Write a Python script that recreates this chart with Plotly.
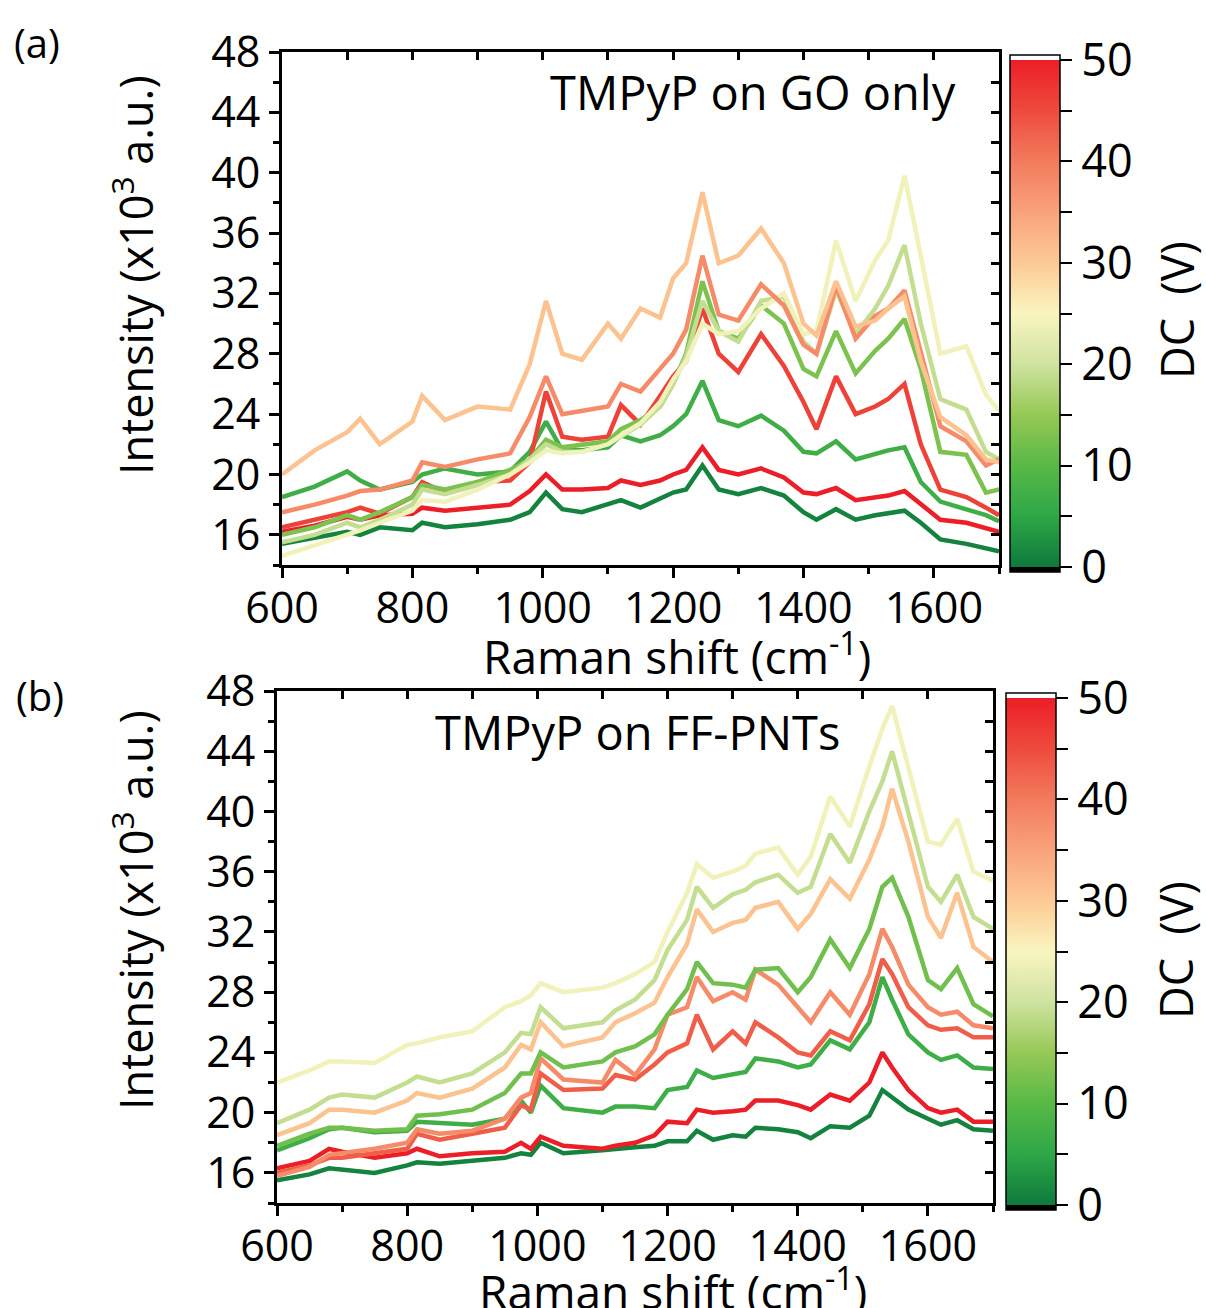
import plotly.graph_objects as go
from plotly.colors import sample_colorscale

# ---------------- colour scale (DC voltage) ----------------
dc_stops = [0, 5, 10, 15, 20, 25, 30, 35, 40, 45, 50]
dc_colors = ["#0e7a3c", "#2ea747", "#58b947", "#96c855", "#cfe3a0", "#f9f5c0",
             "#fdca94", "#f9a27b", "#f27b5c", "#ee4b3c", "#ec1e27"]
cb_ticks = [0, 5, 10, 15, 20, 25, 30, 35, 40, 45, 50]
cb_ticktext = ["0", "", "10", "", "20", "", "30", "", "40", "", "50"]

# ---------------- panel (a): TMPyP on GO only ----------------
a_x = [600, 650, 700, 720, 750, 800, 815, 850, 900, 950, 980, 1005, 1030, 1060, 1100,
       1120, 1150, 1180, 1200, 1220, 1245, 1270, 1300, 1335, 1370, 1400, 1420, 1450,
       1480, 1510, 1530, 1555, 1580, 1610, 1650, 1680, 1700]
a_dc = [1, 7, 50, 46, 13, 19, 24, 38, 31]
a_dc1 = [15.4, 15.8, 16.2, 16.0, 16.5, 16.3, 16.8, 16.5, 16.7, 17.0, 17.5, 18.8, 17.7, 17.5, 18.0,
         18.3, 17.8, 18.4, 18.8, 19.0, 20.6, 19.0, 18.7, 19.1, 18.6, 17.5, 17.0, 17.7,
         17.0, 17.3, 17.4, 17.6, 16.8, 15.7, 15.4, 15.1, 14.9]
a_dc7 = [18.5, 19.2, 20.2, 19.6, 19.0, 19.5, 20.0, 20.4, 20.0, 20.2, 21.5, 23.5, 21.6, 21.6, 21.8,
         22.6, 22.2, 22.6, 23.2, 24.0, 26.2, 23.6, 23.2, 23.9, 22.9, 21.5, 21.4, 22.2,
         21.0, 21.4, 21.6, 21.8, 19.5, 18.2, 17.7, 17.3, 16.9]
a_dc50 = [16.2, 16.6, 17.2, 17.0, 17.3, 17.4, 17.8, 17.6, 17.8, 18.0, 18.9, 20.0, 19.0, 19.0, 19.1,
          19.6, 19.3, 19.6, 20.0, 20.3, 21.8, 20.3, 20.0, 20.4, 19.8, 18.8, 18.7, 19.1,
          18.3, 18.5, 18.6, 18.9, 18.0, 17.0, 16.8, 16.4, 16.2]
a_dc46 = [16.5, 17.0, 17.5, 17.8, 17.4, 18.5, 19.5, 18.8, 19.5, 19.6, 20.8, 25.5, 22.5, 22.3, 22.5,
          24.6, 23.3, 25.2, 26.5, 27.5, 31.0, 28.0, 26.8, 29.3, 27.2, 24.8, 23.0, 26.5,
          24.0, 24.5, 25.0, 26.0, 22.0, 19.0, 18.5, 17.8, 17.3]
a_dc13 = [16.0, 16.5, 17.3, 17.0, 17.5, 18.5, 19.3, 19.0, 19.5, 20.3, 21.0, 22.3, 21.8, 22.0, 22.2,
          23.0, 23.6, 24.5, 26.0, 28.0, 32.8, 29.5, 29.0, 31.2, 30.0, 27.0, 26.5, 29.5,
          26.7, 28.2, 29.0, 30.3, 27.0, 21.5, 21.3, 18.8, 19.0]
a_dc19 = [15.5, 16.0, 16.8, 16.5, 17.0, 18.0, 19.0, 18.7, 19.3, 20.0, 21.0, 22.0, 21.5, 21.5, 22.0,
          22.5, 23.3, 24.5, 26.0, 27.8, 31.5, 29.5, 28.8, 31.5, 31.8, 28.8, 28.0, 32.2,
          29.3, 31.0, 32.5, 35.2, 30.0, 25.0, 24.3, 21.5, 21.0]
a_dc24 = [14.6, 15.3, 16.0, 16.3, 16.8, 17.6, 18.3, 18.2, 19.0, 20.0, 20.8, 21.6, 21.4, 21.5, 22.0,
          22.6, 23.4, 24.8, 26.3, 27.5, 30.0, 29.3, 29.5, 31.0, 32.0, 29.3, 29.5, 35.5,
          31.5, 34.2, 35.5, 39.8, 34.5, 28.0, 28.5, 25.3, 24.2]
a_dc38 = [17.5, 18.0, 18.6, 18.9, 19.0, 19.6, 20.8, 20.5, 21.0, 21.4, 23.8, 26.5, 24.0, 24.2, 24.5,
          26.0, 25.5, 27.0, 28.0, 29.6, 34.5, 30.6, 30.2, 32.6, 31.2, 28.6, 28.0, 32.5,
          29.0, 30.5, 31.0, 32.2, 28.0, 23.2, 22.2, 20.6, 21.0]
a_dc31 = [20.0, 21.6, 22.8, 23.7, 22.0, 23.5, 25.2, 23.6, 24.5, 24.3, 27.3, 31.5, 28.0, 27.6, 30.0,
          29.0, 31.0, 30.4, 33.0, 34.0, 38.7, 34.0, 34.5, 36.3, 34.0, 30.0, 29.2, 32.8,
          29.8, 30.2, 31.0, 31.8, 27.5, 23.8, 22.6, 21.0, 20.8]
a_series = [a_dc1, a_dc7, a_dc50, a_dc46, a_dc13, a_dc19, a_dc24, a_dc38, a_dc31]

# ---------------- panel (b): TMPyP on FF-PNTs ----------------
b_x = [600, 650, 680, 700, 750, 800, 815, 850, 900, 950, 975, 990, 1005, 1040, 1100, 1120,
       1150, 1180, 1200, 1230, 1245, 1270, 1300, 1320, 1335, 1370, 1400, 1420, 1450, 1480,
       1510, 1530, 1545, 1570, 1600, 1620, 1645, 1670, 1700]
b_dc = [1, 50, 7, 43, 38, 12, 31, 19, 24]
b_dc1 = [15.5, 15.9, 16.3, 16.2, 16.0, 16.5, 16.7, 16.6, 16.8, 17.0, 17.3, 17.2, 18.0, 17.3, 17.5, 17.6,
         17.7, 17.8, 18.1, 18.1, 18.8, 18.2, 18.5, 18.4, 19.0, 18.9, 18.7, 18.3, 19.1, 19.0,
         19.8, 21.5, 21.0, 20.2, 19.6, 19.2, 19.5, 18.9, 18.8]
b_dc50 = [16.3, 16.8, 17.6, 17.4, 17.0, 17.3, 17.6, 17.1, 17.3, 17.4, 18.0, 17.6, 18.4, 17.8, 17.6, 17.8,
          18.0, 18.5, 19.4, 19.3, 20.2, 20.0, 20.1, 20.2, 20.8, 20.8, 20.5, 20.2, 21.2, 20.8,
          22.0, 24.0, 23.0, 21.5, 20.3, 20.0, 20.2, 19.4, 19.4]
b_dc7 = [17.5, 18.3, 18.9, 19.0, 18.7, 18.8, 19.4, 19.3, 19.2, 19.6, 20.8, 20.0, 21.8, 20.3, 20.0, 20.4,
         20.4, 20.3, 21.5, 21.7, 22.8, 22.3, 22.5, 22.7, 23.6, 23.4, 23.0, 23.2, 24.8, 24.2,
         26.0, 29.0, 27.5, 25.2, 24.0, 23.5, 23.8, 23.0, 22.9]
b_dc43 = [16.0, 16.5, 17.0, 17.0, 17.3, 17.6, 18.6, 18.2, 18.6, 19.0, 20.5, 20.2, 22.6, 21.5, 21.6, 22.5,
          22.2, 23.2, 24.0, 24.6, 26.5, 24.2, 25.4, 24.6, 26.0, 25.0, 24.0, 23.8, 25.4, 24.8,
          27.2, 30.2, 29.2, 27.0, 25.8, 25.5, 25.6, 25.0, 25.0]
b_dc38 = [15.8, 16.4, 17.2, 17.3, 17.6, 18.0, 18.9, 18.6, 18.8, 19.6, 21.0, 21.3, 23.6, 22.2, 22.0, 23.5,
          22.5, 24.2, 26.5, 27.0, 29.0, 27.4, 28.0, 27.5, 29.5, 28.5, 27.0, 26.0, 28.0, 26.5,
          29.2, 32.2, 31.0, 28.5, 27.0, 26.5, 26.7, 25.8, 25.6]
b_dc12 = [17.8, 18.6, 19.0, 19.0, 18.8, 18.9, 19.8, 19.9, 20.2, 21.3, 22.6, 22.6, 24.0, 23.0, 23.4, 24.0,
          24.4, 25.2, 26.5, 28.2, 30.0, 28.6, 28.5, 28.3, 29.5, 29.6, 28.0, 29.0, 31.5, 29.6,
          32.2, 35.0, 35.6, 33.0, 28.8, 28.2, 29.6, 27.2, 26.4]
b_dc31 = [18.5, 19.3, 20.2, 20.2, 20.0, 20.8, 21.3, 21.0, 21.6, 23.0, 24.5, 24.2, 26.0, 24.4, 25.0, 26.0,
          26.6, 27.3, 29.0, 31.2, 33.5, 32.0, 32.6, 32.8, 33.6, 34.0, 32.2, 33.2, 35.5, 34.2,
          36.8, 39.0, 41.5, 38.0, 33.0, 31.6, 34.6, 31.0, 30.0]
b_dc19 = [19.3, 20.2, 21.0, 21.2, 21.0, 22.0, 22.4, 22.0, 22.6, 24.0, 25.3, 25.2, 27.0, 25.6, 26.0, 26.8,
          27.5, 28.8, 30.8, 32.8, 35.0, 33.6, 34.5, 34.8, 35.3, 35.8, 34.6, 35.0, 38.5, 36.6,
          40.0, 42.0, 44.0, 40.0, 35.0, 34.0, 35.8, 33.0, 32.2]
b_dc24 = [22.0, 22.8, 23.4, 23.4, 23.3, 24.5, 24.6, 25.0, 25.4, 27.0, 27.4, 27.8, 28.6, 28.0, 28.3, 28.6,
          29.2, 30.0, 32.0, 34.6, 36.5, 35.6, 36.0, 36.4, 37.2, 37.6, 35.8, 37.0, 41.0, 39.0,
          43.0, 45.5, 47.0, 43.0, 38.0, 37.8, 39.5, 36.0, 35.4]
b_series = [b_dc1, b_dc50, b_dc7, b_dc43, b_dc38, b_dc12, b_dc31, b_dc19, b_dc24]

x_range = [600, 1700]
y_range = [14, 48]

# ---------------- build figure ----------------
W, H = 1206, 1308
line_scale = [[s / 50, c] for s, c in zip(dc_stops, dc_colors)]
# colour bar with a thin black end below 0 and white end above 50
ext = 0.5
bar_scale = [[0, "black"], [ext / (50 + 2 * ext), "black"]]
for s, c in zip(dc_stops, dc_colors):
    bar_scale.append([(s + ext) / (50 + 2 * ext), c])
bar_scale += [[(50 + ext) / (50 + 2 * ext), "white"], [1, "white"]]

FONT = "Open Sans"
fig = go.Figure()


def add_panel(xs, series, dcs, xa, ya, xo, yo, cb_x, cb_y):
    for dc, ys in zip(dcs, series):
        col = sample_colorscale(line_scale, dc / 50)[0]
        fig.add_trace(go.Scatter(x=xs, y=ys, mode="lines", xaxis=xa, yaxis=ya,
                                 line=dict(color=col, width=4.5), showlegend=False,
                                 hoverinfo="skip"))
    fig.add_trace(go.Scatter(
        x=[None], y=[None], mode="markers", xaxis=xa, yaxis=ya, showlegend=False,
        marker=dict(color=[0], cmin=-ext, cmax=50 + ext, colorscale=bar_scale, showscale=True,
                    colorbar=dict(
                        x=cb_x / W, xanchor="left", xpad=0, ypad=0,
                        y=1 - cb_y / H, yanchor="middle",
                        lenmode="pixels", len=507 * (50 + 2 * ext) / 50,
                        thicknessmode="pixels", thickness=50,
                        outlinewidth=1.5, outlinecolor="black",
                        tickmode="array", tickvals=cb_ticks, ticktext=cb_ticktext,
                        ticks="outside", ticklen=12, tickwidth=1.5, tickcolor="black",
                        tickfont=dict(size=45, family=FONT, color="black"),
                    ))))
    # invisible trace to activate the mirrored (inside-tick) axes
    fig.add_trace(go.Scatter(x=[None], y=[None], mode="markers", xaxis=xo, yaxis=yo,
                             showlegend=False, hoverinfo="skip"))


add_panel(a_x, a_series, a_dc, "x", "y", "x3", "y3", 1010, 313.5)
add_panel(b_x, b_series, b_dc, "x2", "y2", "x4", "y4", 1006, 951.5)

main_x = dict(range=x_range, showline=True, linecolor="black", linewidth=3, mirror=True,
              ticks="outside", ticklen=10, tickwidth=3, tickcolor="black", dtick=200, tick0=0,
              minor=dict(dtick=100, ticks="outside", ticklen=6, tickwidth=3, tickcolor="black"),
              showgrid=False, zeroline=False, automargin=False, ticklabelstandoff=-7,
              tickfont=dict(size=43, family=FONT, color="black"))
main_y = dict(range=y_range, showline=True, linecolor="black", linewidth=3, mirror=True,
              ticks="outside", ticklen=10, tickwidth=3, tickcolor="black", dtick=4, tick0=0,
              minor=dict(dtick=2, ticks="outside", ticklen=6, tickwidth=3, tickcolor="black"),
              showgrid=False, zeroline=False, automargin=False,
              tickfont=dict(size=43, family=FONT, color="black"))
over_x = dict(range=x_range, side="top", ticks="inside", ticklen=8, tickwidth=3,
              tickcolor="black", dtick=100, tick0=0, showticklabels=False, showline=False,
              showgrid=False, zeroline=False, automargin=False)
over_y = dict(range=y_range, side="right", ticks="inside", ticklen=8, tickwidth=3,
              tickcolor="black", dtick=2, tick0=0, showticklabels=False, showline=False,
              showgrid=False, zeroline=False, automargin=False)

ax_a = [282 / W, 999 / W]
ay_a = [1 - 565 / H, 1 - 52 / H]
ax_b = [277 / W, 993 / W]
ay_b = [1 - 1203 / H, 1 - 691 / H]

fig.update_layout(
    width=W, height=H, margin=dict(l=0, r=0, t=0, b=0),
    paper_bgcolor="white", plot_bgcolor="white",
    font=dict(family=FONT, color="black"),
    xaxis=dict(main_x, domain=ax_a, anchor="y"),
    yaxis=dict(main_y, domain=ay_a, anchor="x"),
    xaxis2=dict(main_x, domain=ax_b, anchor="y2"),
    yaxis2=dict(main_y, domain=ay_b, anchor="x2"),
    xaxis3=dict(over_x, overlaying="x", anchor="y"),
    yaxis3=dict(over_y, overlaying="y", anchor="x"),
    xaxis4=dict(over_x, overlaying="x2", anchor="y2"),
    yaxis4=dict(over_y, overlaying="y2", anchor="x2"),
)

ann = []
def txt(text, x, y, size, angle=0, xanchor="center"):
    ann.append(dict(text=text, x=x / W, y=1 - y / H, xref="paper", yref="paper",
                    showarrow=False, textangle=angle, xanchor=xanchor, yanchor="middle",
                    font=dict(size=size, family=FONT, color="black")))

txt("(a)", 37, 42, 40)
txt("(b)", 40, 695, 40)
txt("Intensity (x10<sup>3</sup> a.u.)", 133, 275, 45, angle=-90)
txt("Intensity (x10<sup>3</sup> a.u.)", 133, 910, 45, angle=-90)
txt("Raman shift (cm<sup>-1</sup>)", 677, 654, 46)
txt("Raman shift (cm<sup>-1</sup>)", 673, 1289, 46)
txt("TMPyP on GO only", 958, 92, 47, xanchor="right")
txt("TMPyP on FF-PNTs", 637, 732, 47)
txt("DC  (V)", 1177, 310, 45, angle=-90)
txt("DC  (V)", 1175, 950, 45, angle=-90)
fig.update_layout(annotations=ann)

fig.write_html("out.html")
